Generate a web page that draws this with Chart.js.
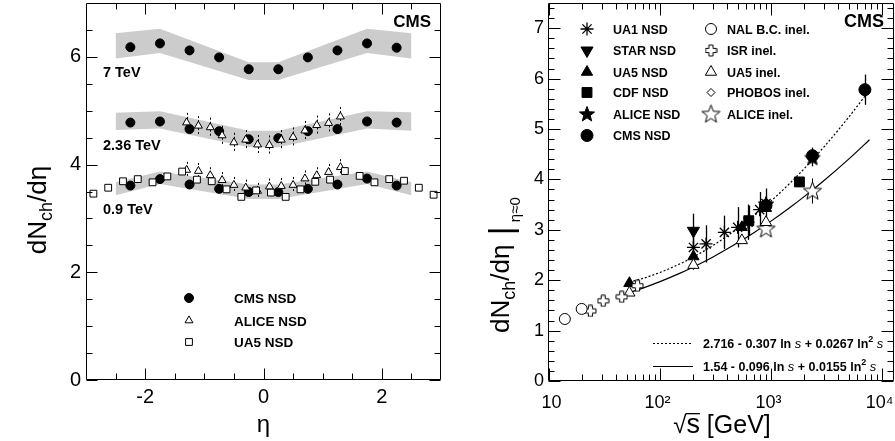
<!DOCTYPE html>
<html>
<head>
<meta charset="utf-8">
<title>dNch/deta vs eta and sqrt(s)</title>
<script src="https://cdn.jsdelivr.net/npm/chart.js@4.4.1/dist/chart.umd.min.js"></script>
<style>
  body { margin: 0; background: #fff; }
  canvas { position: absolute; top: 0; }
</style>
</head>
<body>
<canvas id="leftChart" width="447" height="441" style="left:0"></canvas>
<canvas id="rightChart" width="448" height="441" style="left:447px"></canvas>
<script>
const FONT = "'Liberation Sans', Arial, Helvetica, sans-serif";

//#region left panel data: dNch/deta vs eta
const etaCms = [-2.25, -1.75, -1.25, -0.75, -0.25, 0.25, 0.75, 1.25, 1.75, 2.25];
const cms7000 = [6.18, 6.25, 6.12, 5.99, 5.77, 5.77, 5.99, 6.12, 6.25, 6.17];
const cms2360 = [4.78, 4.80, 4.66, 4.62, 4.47, 4.49, 4.62, 4.66, 4.80, 4.78];
const cms900 = [3.61, 3.73, 3.63, 3.55, 3.49, 3.49, 3.55, 3.63, 3.74, 3.61];

const etaBand = [-2.5, -1.75, -0.25, 0.25, 1.75, 2.5];
const band7000Lo = [5.97, 6.07, 5.57, 5.57, 6.07, 5.97];
const band7000Hi = [6.44, 6.52, 5.90, 5.90, 6.52, 6.44];
const band2360Lo = [4.64, 4.67, 4.32, 4.32, 4.67, 4.63];
const band2360Hi = [4.96, 4.99, 4.63, 4.63, 4.99, 4.97];
const band900Lo = [3.43, 3.64, 3.36, 3.36, 3.64, 3.43];
const band900Hi = [3.67, 3.87, 3.63, 3.63, 3.87, 3.67];

const etaAlice = [-1.3, -1.1, -0.9, -0.7, -0.5, -0.3, -0.1, 0.1, 0.3, 0.5, 0.7, 0.9, 1.1, 1.3];
const alice2360 = [4.78, 4.72, 4.69, 4.54, 4.41, 4.46, 4.37, 4.36, 4.46, 4.51, 4.63, 4.73, 4.77, 4.89];
const alice2360Err = [0.18, 0.18, 0.18, 0.18, 0.18, 0.18, 0.18, 0.18, 0.18, 0.18, 0.18, 0.18, 0.18, 0.18];
const alice900 = [3.90, 3.88, 3.80, 3.71, 3.62, 3.57, 3.51, 3.59, 3.60, 3.62, 3.74, 3.80, 3.86, 3.95];
const alice900Err = [0.15, 0.15, 0.15, 0.15, 0.15, 0.15, 0.15, 0.15, 0.15, 0.15, 0.15, 0.15, 0.15, 0.15];

const etaUa5 = [-2.875, -2.625, -2.375, -2.125, -1.875, -1.625, -1.375, -1.125, -0.875, -0.625, -0.375, -0.125,
                0.125, 0.375, 0.625, 0.875, 1.125, 1.375, 1.625, 1.875, 2.125, 2.375, 2.625, 2.875];
const ua5900 = [3.46, 3.57, 3.69, 3.73, 3.67, 3.78, 3.87, 3.72, 3.69, 3.54, 3.40, 3.52,
                3.48, 3.40, 3.54, 3.68, 3.72, 3.88, 3.79, 3.67, 3.73, 3.70, 3.57, 3.44];

const etaTicks = [-2, 0, 2];
const leftYTicks = [0, 2, 4, 6];
//#endregion

//#region right panel data: dNch/deta at eta=0 vs sqrt(s)
const nalSqrts = [13.9, 19.7];
const nalInel = [1.23, 1.43];
const isrSqrts = [23.6, 30.8, 45.2, 62.7];
const isrInel = [1.39, 1.59, 1.67, 1.89];
const ua5InelSqrts = [53, 200, 546, 900];
const ua5Inel = [1.75, 2.30, 2.79, 3.15];
const phobosSqrts = [200];
const phobosInel = [2.29];
const aliceInelSqrts = [900, 2360];
const aliceInel = [3.02, 3.77];
const aliceInelErr = [0.10, 0.25];

const ua1Sqrts = [200, 260, 380, 500, 620, 790, 900];
const ua1Nsd = [2.65, 2.72, 2.95, 3.05, 3.15, 3.40, 3.52];
const ua1Err = [0.30, 0.37, 0.33, 0.40, 0.35, 0.35, 0.30];
const starSqrts = [200];
const starNsd = [2.98];
const starErr = [0.34];
const ua5NsdSqrts = [53, 200, 546, 900];
const ua5Nsd = [1.94, 2.47, 3.05, 3.43];
const cdfSqrts = [630, 1800];
const cdfNsd = [3.18, 3.95];
const cdfErr = [0.30, 0.10];
const aliceNsdSqrts = [900, 2360];
const aliceNsd = [3.51, 4.43];
const aliceNsdErr = [0.15, 0.17];
const cmsSqrts = [900, 2360, 7000];
const cmsNsd = [3.48, 4.47, 5.78];
const cmsErr = [0.13, 0.16, 0.30];

// fit curves as drawn
const fitSqrts = [53, 70, 100, 150, 200, 300, 500, 700, 1000, 1500, 2000, 3000, 5000, 7000, 7700];
const fitNsd = [1.962, 2.035, 2.154, 2.321, 2.461, 2.688, 3.025, 3.277, 3.571, 3.938, 4.219, 4.646, 5.234, 5.652, 5.774];
const fitInel = [1.755, 1.843, 1.971, 2.135, 2.263, 2.462, 2.741, 2.943, 3.172, 3.452, 3.663, 3.977, 4.402, 4.700, 4.787];

const sqrtsTicks = [10, 100, 1000, 10000];
const sqrtsTickLabels = [' 10', '10\u00b2 ', '10\u00b3 ', '10\u2074 '];
const rightYTicks = [0, 1, 2, 3, 4, 5, 6, 7];
const fitNsdLabel = ['2.716 - 0.307 ln ', 's', ' + 0.0267 ln', '2', ' ', 's'];
const fitInelLabel = ['1.54 - 0.096 ln ', 's', ' + 0.0155 ln', '2', ' ', 's'];
//#endregion

function pts(xs, ys) {
    return xs.map((x, i) => ({ x: x, y: ys[i] }));
}

// custom marker shapes
function starMarker(size, filled) {
    const c = document.createElement('canvas');
    c.width = c.height = size;
    const g = c.getContext('2d');
    const R = size / 2 - 1, r = R * 0.42, m = size / 2;
    g.beginPath();
    for (let i = 0; i < 10; i++) {
        const rad = i % 2 ? r : R;
        const a = -Math.PI / 2 + i * Math.PI / 5;
        g.lineTo(m + rad * Math.cos(a), m + 0.5 + rad * Math.sin(a));
    }
    g.closePath();
    g.fillStyle = filled ? '#000' : '#fff';
    g.fill();
    g.lineWidth = 1;
    g.strokeStyle = '#000';
    g.stroke();
    return c;
}

function openCrossMarker(size) {
    const c = document.createElement('canvas');
    c.width = c.height = size;
    const g = c.getContext('2d');
    const R = size / 2 - 1, w = R * 0.38, m = size / 2;
    const p = [[-w, -R], [w, -R], [w, -w], [R, -w], [R, w], [w, w], [w, R], [-w, R], [-w, w], [-R, w], [-R, -w], [-w, -w]];
    g.beginPath();
    p.forEach(q => g.lineTo(m + q[0], m + q[1]));
    g.closePath();
    g.fillStyle = '#fff';
    g.fill();
    g.lineWidth = 1;
    g.strokeStyle = '#000';
    g.stroke();
    return c;
}

function drawRich(ctx, segs, x, y, align, rotate) {
    ctx.save();
    ctx.translate(x, y);
    if (rotate) ctx.rotate(-Math.PI / 2);
    ctx.textBaseline = 'alphabetic';
    ctx.textAlign = 'left';
    ctx.fillStyle = '#000';
    let w = 0;
    segs.forEach(s => { ctx.font = s.font; s.w = ctx.measureText(s.t).width; w += s.w; });
    let cx = align === 'center' ? -w / 2 : (align === 'right' ? -w : 0);
    segs.forEach(s => {
        ctx.font = s.font;
        ctx.fillText(s.t, cx, s.dy || 0);
        if (s.over) {
            ctx.fillRect(cx - 1, (s.dy || 0) + s.over, s.w + 1, 1.3);
        }
        cx += s.w;
    });
    ctx.restore();
}

// frame + ROOT style inside ticks
const frameTicks = {
    id: 'frameTicks',
    afterDraw(chart, args, opts) {
        const { ctx, chartArea: a, scales } = chart;
        const L = Math.round(a.left) + 0.5, R = Math.round(a.right) - 0.5;
        const T = Math.round(a.top) + 0.5, B = Math.round(a.bottom) - 0.5;
        ctx.save();
        ctx.strokeStyle = '#000';
        ctx.lineWidth = 1;
        ctx.beginPath();
        ctx.rect(L, T, R - L, B - T);
        const tx = (vals, len) => vals.forEach(v => {
            const p = Math.round(scales.x.getPixelForValue(v)) + 0.5;
            ctx.moveTo(p, B); ctx.lineTo(p, B - len);
            ctx.moveTo(p, T); ctx.lineTo(p, T + len);
        });
        const ty = (vals, len) => vals.forEach(v => {
            const p = Math.round(scales.y.getPixelForValue(v)) + 0.5;
            ctx.moveTo(L, p); ctx.lineTo(L + len, p);
            ctx.moveTo(R, p); ctx.lineTo(R - len, p);
        });
        tx(opts.xMajor, opts.majorLen);
        tx(opts.xMinor, opts.minorLen);
        ty(opts.yMajor, opts.majorLen);
        ty(opts.yMinor, opts.minorLen);
        ctx.stroke();
        ctx.restore();
    }
};

// error bars under the markers
const errorBars = {
    id: 'errorBars',
    beforeDatasetsDraw(chart) {
        const { ctx, scales } = chart;
        ctx.save();
        ctx.strokeStyle = '#000';
        chart.data.datasets.forEach(ds => {
            if (!ds.errors) return;
            ctx.lineWidth = ds.errorWidth || 1;
            ctx.setLineDash(ds.errorDash || []);
            ds.data.forEach((d, i) => {
                const x = Math.round(scales.x.getPixelForValue(d.x)) + 0.5;
                ctx.beginPath();
                ctx.moveTo(x, scales.y.getPixelForValue(d.y + ds.errors[i]));
                ctx.lineTo(x, scales.y.getPixelForValue(d.y - ds.errors[i]));
                ctx.stroke();
            });
        });
        ctx.restore();
    }
};

// texts, legends, axis titles with sub/superscripts
const notes = {
    id: 'notes',
    afterDraw(chart, args, opts) {
        const ctx = chart.ctx;
        (opts.texts || []).forEach(t => drawRich(ctx, t.segs, t.x, t.y, t.align, t.rotate));
        (opts.legend || []).forEach(e => {
            const ds = chart.data.datasets[e.ds];
            ctx.save();
            ctx.fillStyle = ds.pointBackgroundColor;
            ctx.strokeStyle = ds.pointBorderColor;
            ctx.lineWidth = ds.pointBorderWidth;
            Chart.helpers.drawPoint(ctx, {
                pointStyle: ds.pointStyle, rotation: ds.pointRotation || 0,
                radius: ds.pointRadius, borderWidth: ds.pointBorderWidth
            }, e.mx, e.my);
            ctx.restore();
            drawRich(ctx, [{ t: e.text, font: opts.legendFont }], e.tx, e.ty, 'left');
        });
        (opts.lines || []).forEach(l => {
            ctx.save();
            ctx.strokeStyle = '#000';
            ctx.lineWidth = 1;
            ctx.setLineDash(l.dash || []);
            ctx.beginPath();
            ctx.moveTo(l.x1, l.y + 0.5);
            ctx.lineTo(l.x2, l.y + 0.5);
            ctx.stroke();
            ctx.restore();
        });
    }
};

function fixedScale(size, horizontal) {
    return function (s) {
        if (horizontal) s.height = size; else s.width = size;
        s.paddingLeft = 0; s.paddingRight = 0; s.paddingTop = 0; s.paddingBottom = 0;
    };
}

function range(from, to, step, skip) {
    const out = [];
    for (let v = from; v <= to + 1e-9; v += step) {
        const r = Math.round(v * 100) / 100;
        if (!skip.includes(r)) out.push(r);
    }
    return out;
}

//#region left chart
const openStyle = { pointBackgroundColor: '#fff', pointBorderColor: '#000', pointBorderWidth: 1 };
const fullStyle = { pointBackgroundColor: '#000', pointBorderColor: '#000', pointBorderWidth: 1 };

function bandSet(ys, fill) {
    return {
        data: pts(etaBand, ys), showLine: true, pointRadius: 0, borderWidth: 0,
        borderColor: 'rgba(0,0,0,0)', backgroundColor: '#cccccc', fill: fill, order: 10
    };
}

function markerSet(xs, ys, style, extra) {
    return Object.assign({ data: pts(xs, ys), showLine: false, order: 0 }, style, extra);
}

const leftDatasets = [
    bandSet(band900Lo, false), bandSet(band900Hi, '-1'),
    bandSet(band2360Lo, false), bandSet(band2360Hi, '-1'),
    bandSet(band7000Lo, false), bandSet(band7000Hi, '-1'),
    markerSet(etaUa5, ua5900, openStyle, { pointStyle: 'rect', pointRadius: 4.8 }),
    markerSet(etaAlice, alice900, openStyle, { pointStyle: 'triangle', pointRadius: 4.6, errors: alice900Err, errorDash: [2, 2] }),
    markerSet(etaAlice, alice2360, openStyle, { pointStyle: 'triangle', pointRadius: 4.6, errors: alice2360Err, errorDash: [2, 2] }),
    markerSet(etaCms, cms900, fullStyle, { pointStyle: 'circle', pointRadius: 4.5 }),
    markerSet(etaCms, cms2360, fullStyle, { pointStyle: 'circle', pointRadius: 4.5 }),
    markerSet(etaCms, cms7000, fullStyle, { pointStyle: 'circle', pointRadius: 4.5 })
];

const bold = s => 'bold ' + s + 'px ' + FONT;
const plain = s => s + 'px ' + FONT;

new Chart(document.getElementById('leftChart'), {
    type: 'line',
    data: { datasets: leftDatasets },
    plugins: [errorBars, frameTicks, notes],
    options: {
        responsive: false,
        animation: false,
        events: [],
        layout: { autoPadding: false, padding: { top: 3, right: 6, bottom: 0, left: 0 } },
        plugins: {
            legend: { display: false },
            tooltip: { enabled: false },
            filler: { drawTime: 'beforeDatasetsDraw' },
            frameTicks: {
                xMajor: etaTicks, xMinor: range(-2.5, 2.5, 0.5, etaTicks),
                yMajor: leftYTicks, yMinor: range(0.5, 6.5, 0.5, leftYTicks),
                majorLen: 11, minorLen: 6
            },
            notes: {
                legendFont: bold(13.5),
                texts: [
                    { segs: [{ t: '7 TeV', font: bold(14.5) }], x: 103, y: 77 },
                    { segs: [{ t: '2.36 TeV', font: bold(14.5) }], x: 103, y: 150 },
                    { segs: [{ t: '0.9 TeV', font: bold(14.5) }], x: 103, y: 214 },
                    { segs: [{ t: 'CMS', font: bold(17) }], x: 431, y: 27, align: 'right' },
                    {
                        segs: [{ t: 'dN', font: plain(26) }, { t: 'ch', font: plain(18), dy: 6 },
                               { t: '/d\u03b7', font: plain(26) }],
                        x: 46, y: 210, align: 'center', rotate: true
                    }
                ],
                legend: [
                    { ds: 9, mx: 189, my: 298, tx: 234, ty: 303, text: 'CMS NSD' },
                    { ds: 7, mx: 189, my: 320.5, tx: 234, ty: 325.5, text: 'ALICE NSD' },
                    { ds: 6, mx: 189, my: 342, tx: 234, ty: 347, text: 'UA5 NSD' }
                ]
            }
        },
        scales: {
            x: {
                type: 'linear', min: -3, max: 3,
                afterFit: fixedScale(61, true),
                afterBuildTicks: s => { s.ticks = etaTicks.map(v => ({ value: v })); },
                grid: { display: false, drawTicks: false },
                border: { display: false },
                ticks: { color: '#000', font: { family: FONT, size: 20 }, padding: 5, maxRotation: 0, autoSkip: false },
                title: { display: true, text: '\u03b7', color: '#000', font: { family: FONT, size: 24 }, padding: { top: 0, bottom: 1 } }
            },
            y: {
                type: 'linear', min: 0, max: 7,
                afterFit: fixedScale(86, false),
                afterBuildTicks: s => { s.ticks = leftYTicks.map(v => ({ value: v })); },
                grid: { display: false, drawTicks: false },
                border: { display: false },
                ticks: { color: '#000', font: { family: FONT, size: 20 }, padding: 5, autoSkip: false }
            }
        }
    }
});
//#endregion

//#region right chart
const rightDatasets = [
    { data: pts(fitSqrts, fitNsd), showLine: true, pointRadius: 0, borderColor: '#000', borderWidth: 1.2,
      borderDash: [2, 2], cubicInterpolationMode: 'monotone', fill: false, order: 10 },
    { data: pts(fitSqrts, fitInel), showLine: true, pointRadius: 0, borderColor: '#000', borderWidth: 1.2,
      cubicInterpolationMode: 'monotone', fill: false, order: 10 },
    markerSet(nalSqrts, nalInel, openStyle, { pointStyle: 'circle', pointRadius: 5.5 }),
    markerSet(isrSqrts, isrInel, openStyle, { pointStyle: openCrossMarker(13), pointRadius: 6 }),
    markerSet(ua5InelSqrts, ua5Inel, openStyle, { pointStyle: 'triangle', pointRadius: 6.5 }),
    markerSet(phobosSqrts, phobosInel, openStyle, { pointStyle: 'rectRot', pointRadius: 4 }),
    markerSet(aliceInelSqrts, aliceInel, openStyle, { pointStyle: starMarker(21, false), pointRadius: 9, errors: aliceInelErr }),
    markerSet(ua1Sqrts, ua1Nsd, fullStyle, { pointStyle: 'star', pointRadius: 6.5, pointBorderWidth: 1.3, errors: ua1Err, errorWidth: 1.3 }),
    markerSet(starSqrts, starNsd, fullStyle, { pointStyle: 'triangle', pointRotation: 180, pointRadius: 7, errors: starErr, errorWidth: 1.3 }),
    markerSet(ua5NsdSqrts, ua5Nsd, fullStyle, { pointStyle: 'triangle', pointRadius: 6.5 }),
    markerSet(cdfSqrts, cdfNsd, fullStyle, { pointStyle: 'rect', pointRadius: 7, errors: cdfErr, errorWidth: 1.3 }),
    markerSet(aliceNsdSqrts, aliceNsd, fullStyle, { pointStyle: starMarker(18, true), pointRadius: 8, errors: aliceNsdErr, errorWidth: 1.3 }),
    markerSet(cmsSqrts, cmsNsd, fullStyle, { pointStyle: 'circle', pointRadius: 6, errors: cmsErr, errorWidth: 1.3 })
];

const logMinor = [];
[10, 100, 1000].forEach(d => { for (let k = 2; k <= 9; k++) logMinor.push(k * d); });

const italicS = { t: 's', font: 'italic 13px ' + FONT };
function fitLabel(parts) {
    return [
        { t: parts[0], font: bold(12.5) }, Object.assign({}, italicS),
        { t: parts[2], font: bold(12.5) }, { t: parts[3], font: bold(9), dy: -6 },
        { t: parts[4], font: bold(12.5) }, Object.assign({}, italicS)
    ];
}

new Chart(document.getElementById('rightChart'), {
    type: 'line',
    data: { datasets: rightDatasets },
    plugins: [errorBars, frameTicks, notes],
    options: {
        responsive: false,
        animation: false,
        events: [],
        layout: { autoPadding: false, padding: { top: 3, right: 1, bottom: 0, left: 0 } },
        plugins: {
            legend: { display: false },
            tooltip: { enabled: false },
            frameTicks: {
                xMajor: sqrtsTicks, xMinor: logMinor,
                yMajor: rightYTicks, yMinor: range(0.2, 7.4, 0.2, rightYTicks),
                majorLen: 12, minorLen: 6
            },
            notes: {
                legendFont: bold(12.5),
                texts: [
                    { segs: [{ t: 'CMS', font: bold(18) }], x: 437, y: 27, align: 'right' },
                    { segs: fitLabel(fitNsdLabel), x: 256, y: 347.5 },
                    { segs: fitLabel(fitInelLabel), x: 256, y: 370.5 },
                    {
                        segs: [{ t: 'dN', font: plain(26) }, { t: 'ch', font: plain(18), dy: 6 },
                               { t: '/d\u03b7', font: plain(26) }, { t: ' |', font: plain(34), dy: 3 },
                               { t: ' \u03b7\u22480', font: plain(15), dy: 11 }],
                        x: 62, y: 333, align: 'left', rotate: true
                    },
                    {
                        segs: [{ t: '\u221a', font: plain(24) }, { t: 's', font: plain(27), over: -20 },
                               { t: ' [GeV]', font: plain(25) }],
                        x: 275, y: 433, align: 'center'
                    }
                ],
                legend: [
                    { ds: 7, mx: 140, my: 29, tx: 166, ty: 33.5, text: 'UA1 NSD' },
                    { ds: 8, mx: 140, my: 50.5, tx: 166, ty: 55, text: 'STAR NSD' },
                    { ds: 9, mx: 140, my: 72, tx: 166, ty: 76.5, text: 'UA5 NSD' },
                    { ds: 10, mx: 140, my: 92.5, tx: 166, ty: 97, text: 'CDF NSD' },
                    { ds: 11, mx: 140, my: 114, tx: 166, ty: 118.5, text: 'ALICE NSD' },
                    { ds: 12, mx: 140, my: 135.5, tx: 166, ty: 140, text: 'CMS NSD' },
                    { ds: 2, mx: 264, my: 29, tx: 280, ty: 33.5, text: 'NAL B.C. inel.' },
                    { ds: 3, mx: 264, my: 50.5, tx: 280, ty: 55, text: 'ISR inel.' },
                    { ds: 4, mx: 264, my: 72, tx: 280, ty: 76.5, text: 'UA5 inel.' },
                    { ds: 5, mx: 264, my: 92.5, tx: 280, ty: 97, text: 'PHOBOS inel.' },
                    { ds: 6, mx: 264, my: 114, tx: 280, ty: 118.5, text: 'ALICE inel.' }
                ],
                lines: [
                    { x1: 206, x2: 246, y: 343, dash: [2, 2] },
                    { x1: 206, x2: 246, y: 366 }
                ]
            }
        },
        scales: {
            x: {
                type: 'logarithmic', min: 9.8, max: 12800,
                afterFit: fixedScale(60, true),
                afterBuildTicks: s => { s.ticks = sqrtsTicks.map(v => ({ value: v })); },
                grid: { display: false, drawTicks: false },
                border: { display: false },
                ticks: {
                    color: '#000', font: { family: FONT, size: 18 }, padding: 11, maxRotation: 0, autoSkip: false,
                    callback: (v, i) => sqrtsTickLabels[i]
                }
            },
            y: {
                type: 'linear', min: 0, max: 7.5,
                afterFit: fixedScale(101, false),
                afterBuildTicks: s => { s.ticks = rightYTicks.map(v => ({ value: v })); },
                grid: { display: false, drawTicks: false },
                border: { display: false },
                ticks: { color: '#000', font: { family: FONT, size: 18 }, padding: 4, autoSkip: false }
            }
        }
    }
});
//#endregion
</script>
</body>
</html>
